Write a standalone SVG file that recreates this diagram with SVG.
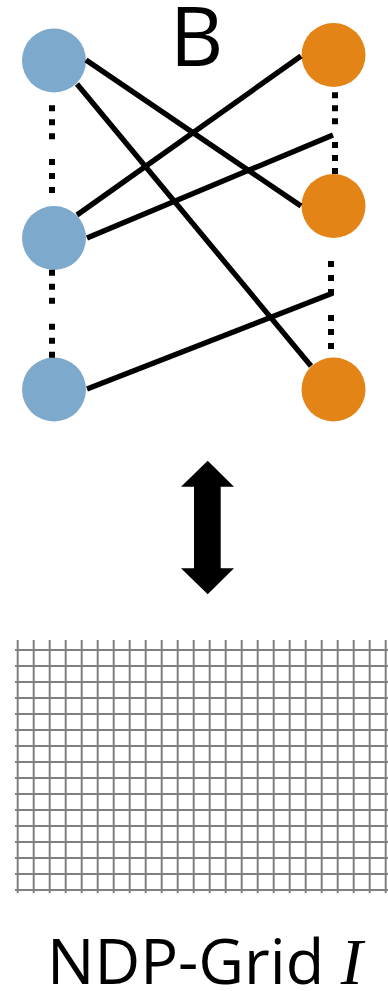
<svg xmlns="http://www.w3.org/2000/svg" width="388" height="991" viewBox="0 0 388 991">
  <style>
    .left { fill: #7DA9CC; }
    .right { fill: #E48316; }
    .edge { stroke: #000; stroke-width: 5.3; fill: none; }
    .dots { stroke: #000; stroke-width: 6; fill: none; }
    .grid { stroke: #808080; stroke-width: 2; fill: none; }
    .label { font-family: "Open Sans", "Liberation Sans", sans-serif; fill: #000; }
  </style>

  <rect width="388" height="991" fill="#fff"/>

  <text class="label" x="196.5" y="66" font-size="83" text-anchor="middle">B</text>

  <!-- left column -->
  <g id="u1"><circle class="left" cx="54" cy="60.5" r="32"/></g>
  <g id="u2"><circle class="left" cx="54" cy="238" r="32"/></g>
  <g id="u3"><circle class="left" cx="54" cy="389.5" r="32"/></g>

  <!-- right column -->
  <g id="v1"><circle class="right" cx="333.5" cy="55" r="32"/></g>
  <g id="v2"><circle class="right" cx="333.5" cy="206" r="32"/></g>
  <g id="v3"><circle class="right" cx="333.5" cy="389.5" r="32"/></g>

  <g id="connectors">
    <!-- elided vertices -->
    <line class="dots" x1="52" y1="105.3" x2="52" y2="139.3" stroke-dasharray="6 8"/>
    <line class="dots" x1="52" y1="159" x2="52" y2="193" stroke-dasharray="6 8"/>
    <line class="dots" x1="52" y1="269.7" x2="52" y2="303.7" stroke-dasharray="6 8"/>
    <line class="dots" x1="52" y1="323.7" x2="52" y2="357.7" stroke-dasharray="6 8"/>
    <line class="dots" x1="335" y1="92.3" x2="335" y2="124.3" stroke-dasharray="6 7"/>
    <line class="dots" x1="335" y1="142" x2="335" y2="174" stroke-dasharray="6 7"/>
    <line class="dots" x1="331" y1="261" x2="331" y2="295" stroke-dasharray="6 8"/>
    <line class="dots" x1="331" y1="315" x2="331" y2="349" stroke-dasharray="6 8"/>

    <!-- edges -->
    <line class="edge" x1="86" y1="60" x2="301" y2="206"/>
    <line class="edge" x1="77" y1="84" x2="311" y2="366"/>
    <line class="edge" x1="77" y1="215" x2="301" y2="56"/>
    <line class="edge" x1="87" y1="238" x2="333" y2="135"/>
    <line class="edge" x1="87" y1="389" x2="333" y2="293"/>
  </g>

  <!-- two-way arrow -->
  <polygon fill="#000" points="207.7,460.7 181,486.7 194,486.7 194,568.3 181,568.3 207.7,594.3 234,568.3 220.7,568.3 220.7,486.7 234,486.7"/>

  <!-- grid -->
  <path class="grid" d="M15 650H388M15 666H388M15 682H388M15 698H388M15 714H388M15 730H388M15 746H388M15 762H388M15 778H388M15 794H388M15 810H388M15 826H388M15 842H388M15 858H388M15 874H388M15 890H388
    M17.7 640V893M33.7 640V893M49.7 640V893M65.7 640V893M81.7 640V893M97.7 640V893M113.7 640V893M129.7 640V893M145.7 640V893M161.7 640V893M177.7 640V893M193.7 640V893
    M209.7 640V893M225.7 640V893M241.7 640V893M257.7 640V893M273.7 640V893M289.7 640V893M305.7 640V893M321.7 640V893M337.7 640V893M353.7 640V893M369.7 640V893M385.7 640V893"/>

  <text class="label" x="47" y="984" font-size="63">NDP-Grid <tspan font-family="'Liberation Serif', serif" font-style="italic" font-size="66">I</tspan></text>
</svg>
